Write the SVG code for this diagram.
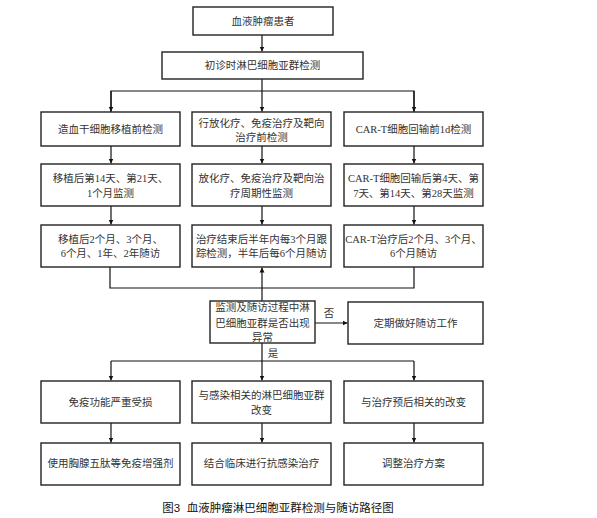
<svg xmlns="http://www.w3.org/2000/svg" width="597" height="518" viewBox="0 0 597 518">
<defs>
<marker id="ah" markerWidth="6" markerHeight="6" refX="5" refY="3" orient="auto" markerUnits="userSpaceOnUse">
<path d="M0,0.5 L5,3 L0,5.5 Z" fill="#111"/>
</marker>
<style>
.box{fill:#fff;stroke:#222;stroke-width:1.4}
.t{font-family:"Liberation Serif","Noto Sans CJK SC",serif;font-size:10.5px;fill:#333;text-anchor:middle;dominant-baseline:central}
.c{fill:none;stroke:#111;stroke-width:1.2}
.cap{font-family:"Liberation Sans","Noto Sans CJK SC",sans-serif;font-size:11.5px;fill:#111;text-anchor:middle;dominant-baseline:central}
</style>
</defs>
<rect width="597" height="518" fill="#fff"/>
<g id="connectors">
<line class="c" x1="262" y1="35" x2="262" y2="51.5" marker-end="url(#ah)"/>
<line class="c" x1="262" y1="79" x2="262" y2="111.5" marker-end="url(#ah)"/>
<polyline class="c" points="111,112 111,91 414,91 414,112"/>
<line class="c" x1="111" y1="91" x2="111" y2="111.5" marker-end="url(#ah)"/>
<line class="c" x1="414" y1="91" x2="414" y2="111.5" marker-end="url(#ah)"/>
<line class="c" x1="111" y1="146" x2="111" y2="163.5" marker-end="url(#ah)"/>
<line class="c" x1="262" y1="146" x2="262" y2="163.5" marker-end="url(#ah)"/>
<line class="c" x1="414" y1="146" x2="414" y2="163.5" marker-end="url(#ah)"/>
<line class="c" x1="111" y1="206" x2="111" y2="224.5" marker-end="url(#ah)"/>
<line class="c" x1="262" y1="206" x2="262" y2="224.5" marker-end="url(#ah)"/>
<line class="c" x1="414" y1="206" x2="414" y2="224.5" marker-end="url(#ah)"/>
<polyline class="c" points="110,267 110,288 414,288 414,267"/>
<line class="c" x1="262" y1="301" x2="262" y2="267.5" marker-end="url(#ah)"/>
<line class="c" x1="315" y1="323" x2="347.5" y2="323" marker-end="url(#ah)"/>
<line class="c" x1="262" y1="343" x2="262" y2="361"/>
<polyline class="c" points="111,361 414,361"/>
<line class="c" x1="111" y1="361" x2="111" y2="380.5" marker-end="url(#ah)"/>
<line class="c" x1="262" y1="361" x2="262" y2="380.5" marker-end="url(#ah)"/>
<line class="c" x1="414" y1="361" x2="414" y2="380.5" marker-end="url(#ah)"/>
<line class="c" x1="111" y1="423" x2="111" y2="442.5" marker-end="url(#ah)"/>
<line class="c" x1="262" y1="423" x2="262" y2="442.5" marker-end="url(#ah)"/>
<line class="c" x1="414" y1="423" x2="414" y2="442.5" marker-end="url(#ah)"/>
<text class="t" x="329" y="313">否</text>
<text class="t" x="273" y="353">是</text>
</g>
<g id="n1"><rect class="box" x="193" y="7" width="140" height="28"/><text class="t" x="263" y="21">血液肿瘤患者</text></g>
<g id="n2"><rect class="box" x="162" y="52" width="201" height="27"/><text class="t" x="262.5" y="65.5">初诊时淋巴细胞亚群检测</text></g>
<g id="r1a"><rect class="box" x="41" y="112" width="139" height="34"/><text class="t" x="110.5" y="129">造血干细胞移植前检测</text></g>
<g id="r1b"><rect class="box" x="192" y="112" width="139" height="34"/><text class="t" x="261.5" y="123">行放化疗、免疫治疗及靶向</text><text class="t" x="261.5" y="137">治疗前检测</text></g>
<g id="r1c"><rect class="box" x="344" y="112" width="139" height="34"/><text class="t" x="413.5" y="129">CAR-T细胞回输前1d检测</text></g>
<g id="r2a"><rect class="box" x="41" y="164" width="139" height="42"/><text class="t" x="110.5" y="178">移植后第14天、第21天、</text><text class="t" x="110.5" y="193">1个月监测</text></g>
<g id="r2b"><rect class="box" x="192" y="164" width="139" height="42"/><text class="t" x="261.5" y="178">放化疗、免疫治疗及靶向治</text><text class="t" x="261.5" y="193">疗周期性监测</text></g>
<g id="r2c"><rect class="box" x="344" y="164" width="139" height="42"/><text class="t" x="413.5" y="178">CAR-T细胞回输后第4天、第</text><text class="t" x="413.5" y="193">7天、第14天、第28天监测</text></g>
<g id="r3a"><rect class="box" x="41" y="225" width="139" height="42"/><text class="t" x="110.5" y="239">移植后2个月、3个月、</text><text class="t" x="110.5" y="253">6个月、1年、2年随访</text></g>
<g id="r3b"><rect class="box" x="192" y="225" width="139" height="42"/><text class="t" x="261.5" y="239">治疗结束后半年内每3个月跟</text><text class="t" x="261.5" y="253">踪检测，半年后每6个月随访</text></g>
<g id="r3c"><rect class="box" x="344" y="225" width="139" height="42"/><text class="t" x="413.5" y="239">CAR-T治疗后2个月、3个月、</text><text class="t" x="413.5" y="253">6个月随访</text></g>
<g id="dec"><rect class="box" x="210" y="301" width="105" height="42"/><text class="t" x="262.5" y="307">监测及随访过程中淋</text><text class="t" x="262.5" y="323">巴细胞亚群是否出现</text><text class="t" x="262.5" y="337">异常</text></g>
<g id="fu"><rect class="box" x="348" y="302" width="135" height="42"/><text class="t" x="415.5" y="323">定期做好随访工作</text></g>
<g id="r4a"><rect class="box" x="41" y="381" width="139" height="42"/><text class="t" x="110.5" y="402">免疫功能严重受损</text></g>
<g id="r4b"><rect class="box" x="192" y="381" width="139" height="42"/><text class="t" x="261.5" y="395">与感染相关的淋巴细胞亚群</text><text class="t" x="261.5" y="410">改变</text></g>
<g id="r4c"><rect class="box" x="344" y="381" width="139" height="42"/><text class="t" x="413.5" y="402">与治疗预后相关的改变</text></g>
<g id="r5a"><rect class="box" x="41" y="443" width="139" height="42"/><text class="t" x="110.5" y="463">使用胸腺五肽等免疫增强剂</text></g>
<g id="r5b"><rect class="box" x="192" y="443" width="139" height="42"/><text class="t" x="261.5" y="463">结合临床进行抗感染治疗</text></g>
<g id="r5c"><rect class="box" x="344" y="443" width="139" height="42"/><text class="t" x="413.5" y="463">调整治疗方案</text></g>
<text class="cap" x="278" y="508" xml:space="preserve">图3  血液肿瘤淋巴细胞亚群检测与随访路径图</text>
</svg>
